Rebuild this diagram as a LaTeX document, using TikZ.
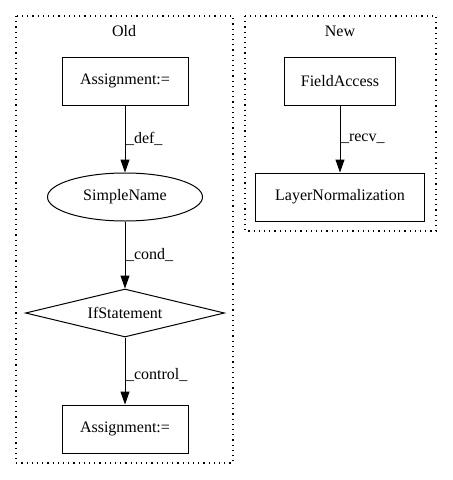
\documentclass[tikz,border=0pt]{standalone}
\usepackage{fontspec}
\setmainfont{Liberation Serif}
\usetikzlibrary{shapes.geometric,arrows.meta}
\begin{document}
\begin{tikzpicture}[x=1pt,y=-1pt,
  every node/.style={font=\fontsize{16}{19}\selectfont},
  box/.style={draw,rectangle,line width=1pt,minimum height=48pt,inner sep=0pt},
  cluster/.style={draw,line width=1.2pt,dash pattern=on 1.2pt off 4pt},
  edge/.style={draw,-{Triangle[length=13pt,width=9pt]},line width=1pt},
  elab/.style={anchor=west,inner sep=0.5pt}]
\useasboundingbox (0,0) rectangle (453,480);
\draw[cluster] (16,16) rectangle (233,463);
\draw[cluster] (245,16) rectangle (436,231);
\node (old) at (124,31) {Old};
\node (new) at (340,31) {New};
\node[box,minimum width=126pt] (a1) at (125,81) {Assignment:=};
\node[draw,line width=1pt,ellipse,minimum width=155pt,minimum height=48pt,inner sep=0pt] (sn) at (125,197) {SimpleName};
\node[draw,line width=1pt,diamond,aspect=4.15,minimum width=199pt,minimum height=48pt,inner sep=0pt] (if) at (125,313) {IfStatement};
\node[box,minimum width=126pt] (a2) at (125,429) {Assignment:=};
\node[box,minimum width=111pt] (fa) at (340,81) {FieldAccess};
\node[box,minimum width=169pt] (ln) at (340,197) {LayerNormalization};
\draw[edge] (a1) -- node[elab] {\_def\_} (sn);
\draw[edge] (sn) -- node[elab] {\_cond\_} (if);
\draw[edge] (if) -- node[elab,yshift=-4pt] {\_control\_} (a2);
\draw[edge] (fa) -- node[elab] {\_recv\_} (ln);
\end{tikzpicture}
\end{document}
